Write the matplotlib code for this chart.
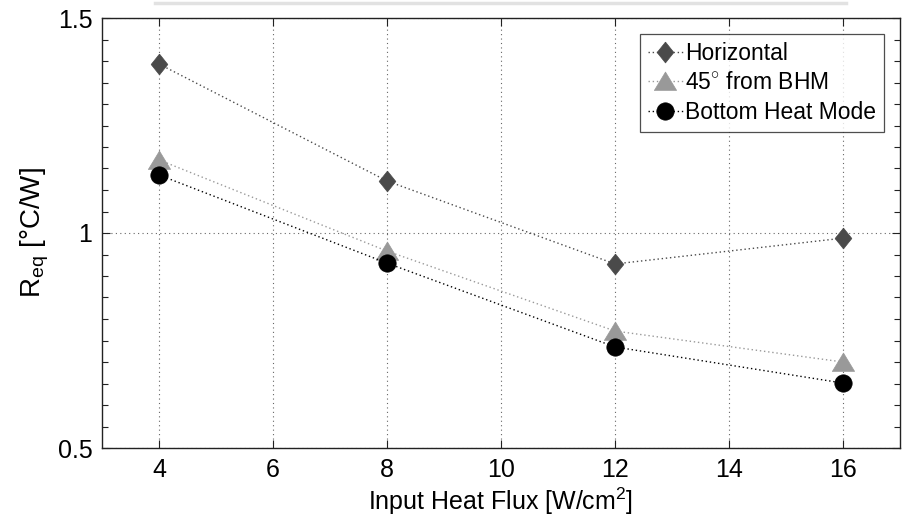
import matplotlib
matplotlib.use("Agg")
import matplotlib.pyplot as plt
from matplotlib.lines import Line2D
from matplotlib.ticker import MultipleLocator

plt.rcParams['font.family'] = ['Liberation Sans', 'DejaVu Sans']
plt.rcParams['mathtext.fontset'] = 'custom'
plt.rcParams['mathtext.rm'] = 'Liberation Sans'
plt.rcParams['mathtext.it'] = 'Liberation Sans'

heat_flux = [4, 8, 12, 16]
r_horizontal = [1.393, 1.121, 0.928, 0.988]
r_45deg = [1.170, 0.958, 0.772, 0.700]
r_bottom = [1.135, 0.930, 0.735, 0.651]
series_labels = ["Horizontal", "45$^{\\circ}$ from BHM", "Bottom Heat Mode"]
x_ticks = [4, 6, 8, 10, 12, 14, 16]
y_ticks = [0.5, 1, 1.5]

# slightly tall diamond and wide triangle, as drawn by the original plotting tool
diamond = [(0, 1), (0.8, 0), (0, -1), (-0.8, 0), (0, 1)]
triangle = [(-1, -0.8), (1, -0.8), (0, 0.85), (-1, -0.8)]

fig = plt.figure(figsize=(9.02, 5.26), dpi=100)
ax = fig.add_axes([102 / 902, 1 - 448 / 526, (900 - 102) / 902, (448 - 18) / 526])

styles = [
    dict(marker=diamond, color="#4a4a4a", ms=15),
    dict(marker=triangle, color="#999999", ms=16),
    dict(marker="o", color="#000000", ms=12.5),
]
for ys, lab, st in zip([r_horizontal, r_45deg, r_bottom], series_labels, styles):
    ax.plot(heat_flux, ys, linestyle=(0, (1, 2)), lw=1.0, color=st["color"],
            marker=st["marker"], markersize=st["ms"], markerfacecolor=st["color"],
            markeredgecolor=st["color"], markeredgewidth=0.5, label=lab)

ax.set_xlim(3, 17)
ax.set_ylim(0.5, 1.5)
ax.set_xticks(x_ticks)
ax.set_xticklabels([str(t) for t in x_ticks])
ax.set_yticks(y_ticks)
ax.set_yticklabels(["0.5", "1", "1.5"])
ax.yaxis.set_minor_locator(MultipleLocator(0.05))

ax.grid(True, which="major", linestyle=(0, (1, 3)), color="#666666", lw=0.8)
ax.tick_params(which="both", direction="in", top=True, right=True,
               labelsize=18, width=0.8, color="#222222")
ax.tick_params(which="major", length=6, pad=7)
ax.tick_params(which="minor", length=4)
for s in ax.spines.values():
    s.set_linewidth(1.0)
    s.set_color("#222222")

ax.set_xlabel("Input Heat Flux [W/cm$^2$]", fontsize=18, labelpad=3)
ax.set_ylabel("R$_{\\mathrm{eq}}$ [°C/W]", fontsize=20, labelpad=5)

leg = ax.legend(loc="upper right", fontsize=16.5,
                frameon=True, fancybox=False, edgecolor="#222222",
                handlelength=1.5, handletextpad=0.1, borderpad=0.35,
                labelspacing=0.28, borderaxespad=0.7, markerscale=1.0)
leg.get_frame().set_linewidth(0.9)

# thin light bar above the plot area
fig.add_artist(Line2D([155 / 902, 846 / 902], [1 - 3 / 526, 1 - 3 / 526],
                      transform=fig.transFigure, color="#e2e2e2", lw=2.5))

fig.savefig("out.png", dpi=100)
